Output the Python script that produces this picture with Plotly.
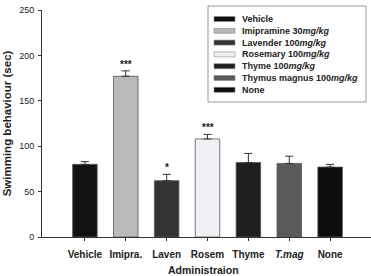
import plotly.graph_objects as go

categories = ["Vehicle", "Imipra.", "Laven", "Rosem", "Thyme", "T.mag", "None"]
tick_labels = ["Vehicle", "Imipra.", "Laven", "Rosem", "Thyme", "<i>T.mag</i>", "None"]
values = [80, 177, 62, 108, 82, 81, 77]
errors = [3, 6, 7, 5, 10, 8, 3]
stars = ["", "***", "*", "***", "", "", ""]
legend_labels = ["Vehicle", "Imipramine 30<i>mg/kg</i>", "Lavender 100<i>mg/kg</i>",
                 "Rosemary 100<i>mg/kg</i>", "Thyme 100<i>mg/kg</i>",
                 "Thymus magnus 100<i>mg/kg</i>", "None"]
colors = ["#111111", "#b9b9b9", "#333333", "#f1eff3", "#1f1f1f", "#5a5a5a", "#0c0c0c"]

FONT = "Liberation Sans, Arial, sans-serif"
TXT = "#222222"

fig = go.Figure()
fig.add_trace(go.Bar(
    x=categories, y=values, width=0.6,
    marker=dict(color=colors, line=dict(color="#555555", width=0.8)),
    error_y=dict(type="data", array=errors, arrayminus=[0] * len(errors), symmetric=False,
                 color="#333333", thickness=1, width=4),
    showlegend=False,
))

annotations = []
for c, v, e, s in zip(categories, values, errors, stars):
    if s:
        annotations.append(dict(x=c, y=v + e, text="<b>%s</b>" % s, showarrow=False,
                                xref="x", yref="y", yanchor="bottom", yshift=-1,
                                font=dict(family=FONT, size=10, color=TXT)))

# custom legend box (paper coordinates)
W, H = 371, 276
ml, mr, mt, mb = 42, 0, 10, 39
pw, ph = W - ml - mr, H - mt - mb
def px(x):
    return (x - ml) / pw
def py(y):
    return (H - mb - y) / ph

shapes = [dict(type="rect", xref="paper", yref="paper", x0=px(208), x1=px(366),
               y0=py(102), y1=py(6), line=dict(color="#999999", width=1), fillcolor="white",
               layer="above")]
for i, (lab, col) in enumerate(zip(legend_labels, colors)):
    yc = 19 + i * 11.8
    shapes.append(dict(type="rect", xref="paper", yref="paper", x0=px(214), x1=px(235),
                       y0=py(yc + 2.5), y1=py(yc - 2.5), fillcolor=col,
                       line=dict(color="#888888", width=0.6), layer="above"))
    annotations.append(dict(x=px(240), y=py(yc), xref="paper", yref="paper",
                            text="<b>%s</b>" % lab, showarrow=False, xanchor="left",
                            yanchor="middle", font=dict(family=FONT, size=9, color=TXT)))

annotations.append(dict(x=px(203), y=py(270), xref="paper", yref="paper",
                        text="<b>Administraion</b>", showarrow=False, xanchor="center",
                        yanchor="middle", font=dict(family=FONT, size=10.5, color=TXT)))

fig.update_layout(
    width=W, height=H, margin=dict(l=ml, r=mr, t=mt, b=mb),
    paper_bgcolor="white", plot_bgcolor="white",
    font=dict(family=FONT, color=TXT),
    shapes=shapes, annotations=annotations,
    xaxis=dict(range=[-1.05, 7.0], tickvals=categories, ticktext=["<b>%s</b>" % t for t in tick_labels],
               tickfont=dict(size=10, family=FONT, color=TXT), ticks="outside", ticklen=3,
               tickcolor="#333", showline=True, linecolor="#333", linewidth=1,
               showgrid=False, zeroline=False, ticklabelstandoff=5),
    yaxis=dict(range=[0, 250], tickvals=[0, 50, 100, 150, 200, 250],
               tickfont=dict(size=9, family=FONT, color=TXT), ticks="outside", ticklen=3,
               tickcolor="#333", showline=True, linecolor="#333", linewidth=1,
               showgrid=False, zeroline=False, tickprefix="<b>", ticksuffix="</b>",
               ticklabelstandoff=2,
               title=dict(text="<b>Swimming behaviour (sec)</b>",
                          font=dict(size=11.5, family=FONT, color=TXT), standoff=5)),
)

fig.write_html("out.html")
